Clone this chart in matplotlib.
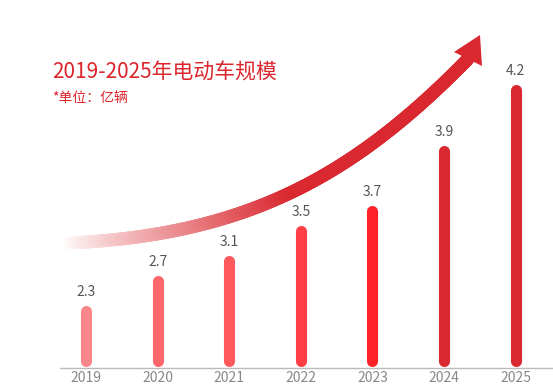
import numpy as np
import matplotlib.pyplot as plt
from matplotlib.collections import LineCollection
from matplotlib.colors import to_rgb

plt.rcParams['font.family'] = ['Noto Sans CJK SC', 'DejaVu Sans']

years = ['2019', '2020', '2021', '2022', '2023', '2024', '2025']
values = [2.3, 2.7, 3.1, 3.5, 3.7, 3.9, 4.2]
# drawn bar lengths (the chart is not to scale)
bar_len = [0.63, 0.93, 1.13, 1.43, 1.63, 2.23, 2.84]
bar_colors = ['#f9878a', '#fe676b', '#fe585d', '#ff3f45', '#ff2329', '#d9282f', '#d9282f']

W, H = 553, 387
fig = plt.figure(figsize=(W / 100, H / 100), dpi=100)

# main axes: baseline at y=368 px, first bar at x=86, step ~71.6 px
ax = fig.add_axes([60 / W, (H - 368) / H, (W - 60) / W, 368 / H])
step = 71.6
ax.set_xlim((60 - 86) / step, (W - 86) / step)
ax.set_ylim(0, 3.68)
x = np.arange(len(years))

r = 0.055  # half bar width in data units (5.5 px)
for xi, h, c, v in zip(x, bar_len, bar_colors, values):
    ax.plot([xi, xi], [0.02 + r, h - r], color=c, lw=8.0, solid_capstyle='round')
    ax.annotate(f'{v}', (xi, h), xytext=(0, 4), textcoords='offset points',
                ha='center', va='bottom', fontsize=10, color='#555555')

ax.set_xticks(x)
ax.set_xticklabels(years, fontsize=10, color='#888888')
ax.tick_params(axis='x', length=0, pad=2.5)
ax.set_yticks([])
for s in ['top', 'right', 'left']:
    ax.spines[s].set_visible(False)
ax.spines['bottom'].set_color('#bbbbbb')
ax.spines['bottom'].set_linewidth(1)

# overlay in pixel coords for the decorative arrow and the title
ov = fig.add_axes([0, 0, 1, 1], facecolor='none')
ov.set_xlim(0, W)
ov.set_ylim(H, 0)
ov.axis('off')

P0 = np.array([68, 243.0])
P1 = np.array([250, 235.0])
P2 = np.array([355, 174.0])
P3 = np.array([468, 59.0])
t = np.linspace(0, 1, 300)[:, None]
pts = (1 - t) ** 3 * P0 + 3 * (1 - t) ** 2 * t * P1 + 3 * (1 - t) * t ** 2 * P2 + t ** 3 * P3
segs = np.stack([pts[:-1], pts[1:]], axis=1)
red = np.array(to_rgb('#d9282f'))
s = np.linspace(0, 1, len(segs))
f = np.clip(s / 0.5, 0, 1) ** 0.8
cols = (1 - f)[:, None] * np.ones(3) + f[:, None] * red
lc = LineCollection(segs, colors=cols, linewidths=9.4, capstyle='round')
ov.add_collection(lc)
head = np.array([[454, 52], [480, 35], [482, 66]])
ov.add_patch(plt.Polygon(head, closed=True, color='#d9282f', lw=0))

ov.text(52, 73, '2019-2025年电动车规模', fontsize=15, color='#dc252c', ha='left', va='center')
ov.text(52, 98, '*单位：亿辆', fontsize=10, color='#dc252c', ha='left', va='center')

fig.savefig('out.png', dpi=100)
